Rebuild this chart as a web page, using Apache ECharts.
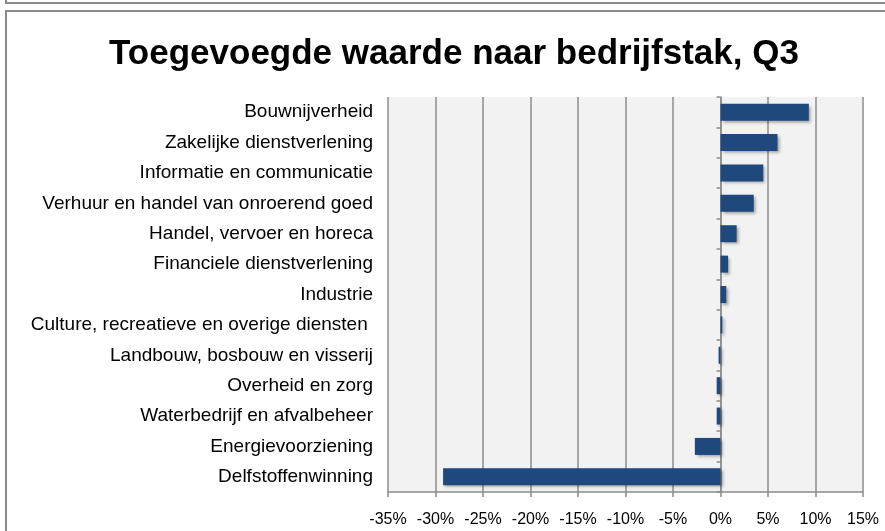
<!DOCTYPE html>
<html>
<head>
    <meta charset="utf-8" />
    <title>Toegevoegde waarde naar bedrijfstak, Q3</title>
    <style>
        html, body { margin: 0; padding: 0; background: #ffffff; }
        #container { width: 885px; height: 531px; }
    </style>
</head>
<body>
<div id="container"></div>

<script src="https://cdn.jsdelivr.net/npm/echarts@6/dist/echarts.min.js"></script>
<script type="text/javascript">

    // sectors, top to bottom
    var sectors = [
        'Bouwnijverheid',
        'Zakelijke dienstverlening',
        'Informatie en communicatie',
        'Verhuur en handel van onroerend goed',
        'Handel, vervoer en horeca',
        'Financiele dienstverlening',
        'Industrie',
        'Culture, recreatieve en overige diensten ',
        'Landbouw, bosbouw en visserij',
        'Overheid en zorg',
        'Waterbedrijf en afvalbeheer',
        'Energievoorziening',
        'Delfstoffenwinning'
    ];

    // growth in %
    var growth = [9.3, 6.0, 4.5, 3.5, 1.7, 0.8, 0.6, 0.2, -0.2, -0.4, -0.4, -2.7, -29.2];

    var xMin = -35, xMax = 15, xStep = 5;

    var chart = echarts.init(document.getElementById('container'));

    var labelFont = 'Liberation Sans, Arial, sans-serif';
    var gridGray = '#8c8c8c';

    // plot box
    var gridLeft = 388, gridRight = 22;
    var plotWidth = 885 - gridLeft - gridRight;
    // where 0 sits, to put the category axis line there
    var zeroOffset = -plotWidth * (0 - xMin) / (xMax - xMin);

    chart.setOption({
        animation: false,
        title: {
            text: 'Toegevoegde waarde naar bedrijfstak, Q3',
            left: 449,
            textAlign: 'center',
            top: 32,
            textStyle: {
                fontFamily: labelFont,
                fontSize: 35,
                fontWeight: 'bold',
                color: '#000000'
            }
        },
        graphic: [
            // outline of the frame above, and of this chart's frame
            { type: 'rect', shape: { x: 6, y: -20, width: 900, height: 23 },
              style: { fill: null, stroke: '#8a8a8a', lineWidth: 2 } },
            { type: 'rect', shape: { x: 6, y: 11, width: 900, height: 600 },
              style: { fill: null, stroke: '#8a8a8a', lineWidth: 2 } }
        ],
        grid: {
            left: gridLeft,
            right: gridRight,
            top: 97,
            bottom: 39,
            show: true,
            backgroundColor: '#f2f2f2',
            borderWidth: 0
        },
        xAxis: {
            type: 'value',
            min: xMin,
            max: xMax,
            interval: xStep,
            axisLine: { show: true, onZero: false, lineStyle: { color: gridGray, width: 1.5 } },
            axisTick: { show: true, length: 5, lineStyle: { color: gridGray, width: 1.5 } },
            splitLine: { show: true, lineStyle: { color: gridGray, width: 1.5 } },
            axisLabel: {
                margin: 20,
                fontFamily: labelFont,
                fontSize: 16,
                color: '#000000',
                formatter: function (v) { return v + '%'; }
            }
        },
        yAxis: [{
            type: 'category',
            data: sectors,
            inverse: true,
            position: 'left',
            axisLine: { show: false },
            axisTick: { show: false },
            axisLabel: {
                margin: 15,
                fontFamily: labelFont,
                fontSize: 19,
                color: '#000000'
            }
        }, {
            // the zero line with its small ticks
            type: 'category',
            data: sectors,
            inverse: true,
            position: 'left',
            offset: zeroOffset,
            axisLine: { show: true, onZero: false, lineStyle: { color: gridGray, width: 1.5 } },
            axisTick: { show: true, length: 4, lineStyle: { color: gridGray, width: 1.5 } },
            axisLabel: { show: false }
        }],
        series: [{
            name: 'Toegevoegde waarde',
            type: 'bar',
            data: growth,
            barWidth: 17,
            itemStyle: {
                color: '#1f497d',
                shadowColor: 'rgba(0, 0, 0, 0.35)',
                shadowBlur: 3,
                shadowOffsetX: 2,
                shadowOffsetY: 2
            }
        }]
    });

</script>
</body>
</html>
